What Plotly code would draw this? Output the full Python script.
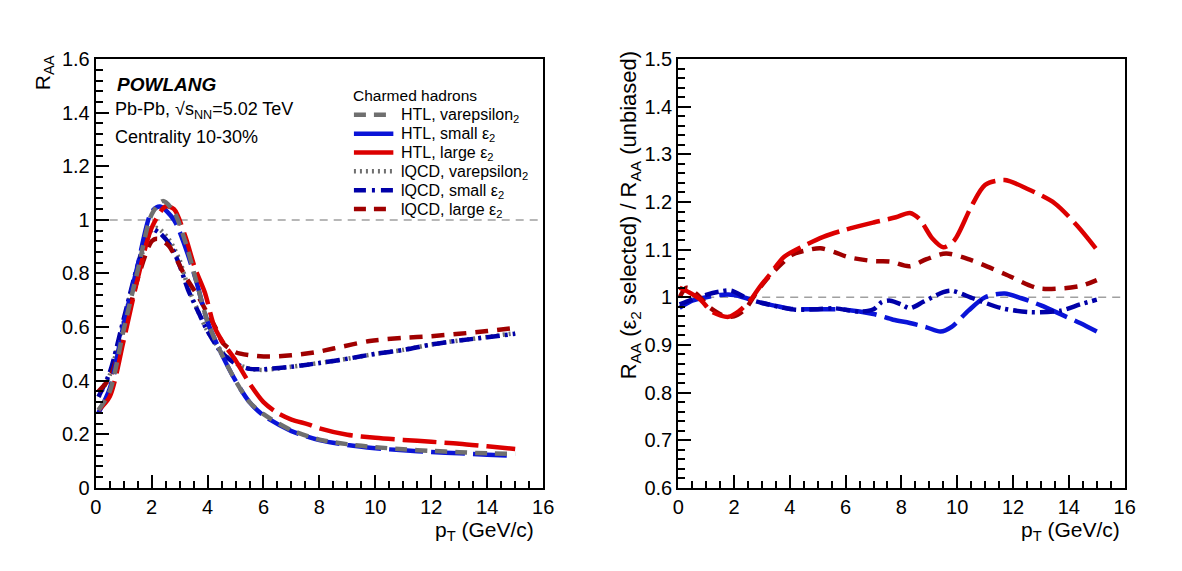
import plotly.graph_objects as go

# ---------------- data (left panel: R_AA) ----------------
pt_htl_var = [0.1, 0.5, 1.0, 1.5, 2.0, 2.4, 2.8, 3.2, 3.6, 4.0, 4.5, 5.0, 5.5, 6.0, 7.0, 8.0, 9.0, 10.0, 11.0, 12.0, 13.0, 14.0, 15.0]
raa_htl_var = [0.29, 0.36, 0.59, 0.81, 1.02, 1.07, 1.03, 0.92, 0.77, 0.62, 0.50, 0.40, 0.32, 0.275, 0.215, 0.18, 0.163, 0.152, 0.144, 0.138, 0.133, 0.129, 0.127]

pt_htl_small = [0.1, 0.5, 1.0, 1.5, 2.0, 2.3, 2.8, 3.2, 3.6, 4.0, 4.5, 5.0, 5.5, 6.0, 7.0, 8.0, 9.0, 10.0, 11.0, 12.0, 13.0, 14.0, 14.9]
raa_htl_small = [0.28, 0.37, 0.61, 0.83, 1.03, 1.05, 1.0, 0.90, 0.77, 0.62, 0.50, 0.40, 0.32, 0.27, 0.212, 0.178, 0.16, 0.148, 0.14, 0.134, 0.129, 0.124, 0.12]

pt_htl_large = [0.1, 0.5, 1.0, 1.5, 2.0, 2.5, 2.8, 3.2, 3.55, 3.9, 4.25, 4.6, 5.0, 5.5, 6.0, 6.5, 7.0, 7.6, 8.0, 9.0, 10.0, 11.0, 12.0, 13.0, 14.0, 15.0]
raa_htl_large = [0.29, 0.34, 0.55, 0.78, 0.97, 1.05, 1.04, 0.94, 0.82, 0.73, 0.60, 0.535, 0.476, 0.39, 0.32, 0.28, 0.255, 0.237, 0.222, 0.198, 0.187, 0.179, 0.172, 0.165, 0.155, 0.145]

pt_lqcd_var = [0.1, 0.5, 1.0, 1.5, 2.0, 2.2, 2.6, 3.0, 3.3, 3.7, 4.0, 4.5, 5.0, 5.5, 6.0, 7.0, 8.0, 9.0, 10.0, 11.0, 12.0, 13.0, 14.0, 15.0]
raa_lqcd_var = [0.34, 0.42, 0.62, 0.82, 0.96, 0.97, 0.93, 0.85, 0.75, 0.65, 0.585, 0.51, 0.465, 0.445, 0.44, 0.452, 0.466, 0.482, 0.50, 0.515, 0.535, 0.55, 0.563, 0.578]

pt_lqcd_small = [0.1, 0.5, 1.0, 1.5, 1.96, 2.3, 2.7, 3.0, 3.3, 3.7, 4.0, 4.5, 5.0, 5.5, 6.0, 7.0, 8.0, 9.0, 10.0, 11.0, 12.0, 13.0, 14.0, 15.0]
raa_lqcd_small = [0.34, 0.43, 0.63, 0.83, 0.966, 0.95, 0.9, 0.83, 0.74, 0.65, 0.585, 0.505, 0.464, 0.444, 0.443, 0.452, 0.466, 0.482, 0.50, 0.515, 0.535, 0.55, 0.562, 0.575]

pt_lqcd_large = [0.1, 0.5, 1.0, 1.5, 2.0, 2.2, 2.6, 3.2, 3.66, 4.0, 4.3, 4.55, 5.0, 5.5, 6.2, 7.0, 7.8, 8.5, 9.8, 11.0, 12.0, 13.0, 14.0, 15.0]
raa_lqcd_large = [0.36, 0.41, 0.58, 0.78, 0.92, 0.93, 0.905, 0.79, 0.715, 0.65, 0.595, 0.54, 0.506, 0.495, 0.49, 0.495, 0.505, 0.52, 0.548, 0.56, 0.566, 0.575, 0.585, 0.597]

# ---------------- data (right panel: ratio) ----------------
pt_r_htl_small = [0.05, 0.5, 1.0, 1.5, 2.0, 2.5, 3.0, 3.5, 4.0, 5.0, 6.0, 7.0, 7.7, 8.3, 8.9, 9.4, 9.8, 10.4, 11.0, 11.7, 12.3, 13.0, 13.8, 14.4, 15.0]
rat_htl_small = [0.978, 0.993, 1.0, 1.005, 1.005, 0.997, 0.988, 0.982, 0.976, 0.975, 0.974, 0.965, 0.953, 0.946, 0.937, 0.928, 0.938, 0.972, 1.0, 1.008, 0.998, 0.983, 0.962, 0.946, 0.928]

pt_r_htl_large = [0.05, 0.4, 0.8, 1.2, 1.8, 2.2, 2.6, 2.9, 3.3, 3.8, 4.5, 5.2, 6.0, 7.0, 7.8, 8.3, 8.65, 9.1, 9.5, 9.9, 10.5, 11.0, 11.7, 12.5, 13.5, 14.3, 15.0]
rat_htl_large = [1.02, 1.01, 0.995, 0.97, 0.959, 0.972, 0.995, 1.02, 1.049, 1.085, 1.108, 1.127, 1.142, 1.157, 1.168, 1.177, 1.164, 1.124, 1.105, 1.12, 1.19, 1.236, 1.246, 1.228, 1.197, 1.15, 1.1]

pt_r_lqcd_small = [0.05, 0.5, 1.0, 1.5, 1.9, 2.5, 3.3, 4.2, 5.0, 5.6, 6.5, 7.0, 7.3, 7.6, 8.0, 8.3, 8.8, 9.5, 9.8, 10.6, 11.6, 12.6, 13.7, 14.4, 15.0]
rat_lqcd_small = [0.985, 0.995, 1.005, 1.012, 1.014, 0.997, 0.984, 0.974, 0.975, 0.977, 0.97, 0.975, 0.99, 0.993, 0.985, 0.977, 0.991, 1.011, 1.014, 0.997, 0.977, 0.969, 0.972, 0.985, 0.995]

pt_r_lqcd_large = [0.05, 0.3, 0.7, 1.1, 1.6, 2.0, 2.4, 2.8, 3.2, 3.7, 4.1, 4.7, 5.1, 5.6, 6.05, 7.0, 7.6, 8.29, 8.9, 9.6, 10.5, 11.7, 12.9, 13.8, 14.5, 15.0]
rat_lqcd_large = [1.0, 1.02, 1.005, 0.98, 0.962, 0.96, 0.975, 1.01, 1.04, 1.07, 1.09, 1.1, 1.103, 1.095, 1.085, 1.076, 1.075, 1.065, 1.08, 1.092, 1.078, 1.049, 1.019, 1.019, 1.025, 1.036]

x_ticks = [0, 2, 4, 6, 8, 10, 12, 14, 16]

legend_title = "Charmed hadrons"
legend_names = ["HTL, varepsilon<sub>2</sub>", "HTL, small ε<sub>2</sub>", "HTL, large ε<sub>2</sub>",
                "lQCD, varepsilon<sub>2</sub>", "lQCD, small ε<sub>2</sub>", "lQCD, large ε<sub>2</sub>"]

# ---------------- styles ----------------
GREY = "#6f6f6f"
BLUE = "#0a14d8"
RED = "#dc0000"
DBLUE = "#0000a8"
DRED = "#a00000"
W = 4.5
st_htl_var = dict(color=GREY, width=W, dash="12px,8px")
st_htl_small = dict(color=BLUE, width=W, dash="34px,8px")
st_htl_large = dict(color=RED, width=W, dash="34px,8px")
st_lqcd_var = dict(color=GREY, width=W, dash="2px,4px")
st_lqcd_small = dict(color=DBLUE, width=W, dash="14px,5px,3px,5px")
st_lqcd_large = dict(color=DRED, width=W, dash="13px,9px")

fig = go.Figure()

def add(x, y, style, xa, ya):
    fig.add_trace(go.Scatter(x=x, y=y, mode="lines", line=dict(shape="spline", smoothing=0.8, **style),
                             xaxis=xa, yaxis=ya, showlegend=False, hoverinfo="skip"))

# left panel
add(pt_lqcd_var, raa_lqcd_var, st_lqcd_var, "x", "y")
add(pt_lqcd_small, raa_lqcd_small, st_lqcd_small, "x", "y")
add(pt_lqcd_large, raa_lqcd_large, st_lqcd_large, "x", "y")
add(pt_htl_small, raa_htl_small, st_htl_small, "x", "y")
add(pt_htl_large, raa_htl_large, st_htl_large, "x", "y")
add(pt_htl_var, raa_htl_var, st_htl_var, "x", "y")

# right panel
add(pt_r_htl_small, rat_htl_small, st_htl_small, "x2", "y2")
add(pt_r_lqcd_small, rat_lqcd_small, st_lqcd_small, "x2", "y2")
add(pt_r_lqcd_large, rat_lqcd_large, st_lqcd_large, "x2", "y2")
add(pt_r_htl_large, rat_htl_large, st_htl_large, "x2", "y2")

# reference lines at 1
for xr, yr in (("x", "y"), ("x2", "y2")):
    fig.add_shape(type="line", xref=f"{xr} domain", yref=yr, x0=0, x1=1, y0=1, y1=1,
                  line=dict(color="#a0a0a0", width=1.5, dash="8px,6px"), layer="below")

FW, FH = 1182, 571
def px(x): return x / FW
def py(y): return 1 - y / FH

FONT = "Liberation Sans, Arial, sans-serif"
ann_font = dict(family=FONT, color="black")

# ROOT-style legend box (HTL small/large drawn as solid lines in the legend)
leg_styles = [dict(color=GREY, width=W, dash="12px,8px"), dict(color=BLUE, width=W), dict(color=RED, width=W),
              dict(color=GREY, width=W, dash="2px,4px"), dict(color=DBLUE, width=W, dash="12px,6px,3px,6px"),
              dict(color=DRED, width=W, dash="12px,8px")]
leg_x0, leg_y0, leg_dy = 353, 108, 19.6
fig.add_annotation(xref="paper", yref="paper", showarrow=False, x=px(350), y=py(88), text=legend_title,
                   font=dict(size=15.5, **ann_font), xanchor="left", yanchor="middle")
for i, (name, st) in enumerate(zip(legend_names, leg_styles)):
    yy = leg_y0 + i * leg_dy
    fig.add_shape(type="line", xref="paper", yref="paper", x0=px(leg_x0), x1=px(leg_x0 + 40),
                  y0=py(yy), y1=py(yy), line=st)
    fig.add_annotation(xref="paper", yref="paper", showarrow=False, x=px(399), y=py(yy + 1), text=name,
                       font=dict(size=16, **ann_font), xanchor="left", yanchor="middle")

axis_common = dict(showline=True, linecolor="black", linewidth=2, mirror=True, ticks="inside",
                   ticklen=13, tickwidth=1.5, tickcolor="black", showgrid=False, zeroline=False,
                   tickfont=dict(family=FONT, size=20, color="black"))

fig.update_layout(
    width=FW, height=FH, margin=dict(l=0, r=0, t=0, b=0),
    paper_bgcolor="white", plot_bgcolor="white", showlegend=False,
    font=dict(family=FONT, color="black"),
    xaxis=dict(domain=[px(91), px(545)], range=[0, 16], tickvals=x_ticks, anchor="y",
               minor=dict(ticks="inside", ticklen=7, dtick=0.5, tickcolor="black"), **axis_common),
    yaxis=dict(domain=[py(496), py(50)], range=[0, 1.6], dtick=0.2, anchor="x",
               minor=dict(ticks="inside", ticklen=7, dtick=0.04, tickcolor="black"), **axis_common),
    xaxis2=dict(domain=[px(682), px(1135)], range=[0, 16], tickvals=x_ticks, anchor="y2",
                minor=dict(ticks="inside", ticklen=7, dtick=0.5, tickcolor="black"), **axis_common),
    yaxis2=dict(domain=[py(496), py(50)], range=[0.6, 1.5], dtick=0.1, anchor="x2",
                minor=dict(ticks="inside", ticklen=7, dtick=0.02, tickcolor="black"), **axis_common),
)

anns = [
    dict(x=px(111), y=py(76), text="<b><i>POWLANG</i></b>", font=dict(size=19, **ann_font), xanchor="left", yanchor="middle"),
    dict(x=px(109), y=py(104), text="Pb-Pb, √s<sub>NN</sub>=5.02 TeV", font=dict(size=18, **ann_font), xanchor="left", yanchor="middle"),
    dict(x=px(109), y=py(131), text="Centrality 10-30%", font=dict(size=18, **ann_font), xanchor="left", yanchor="middle"),
    dict(x=px(538), y=py(541), text="p<sub>T</sub> (GeV/c)", font=dict(size=21, **ann_font), xanchor="right", yanchor="middle"),
    dict(x=px(1132), y=py(541), text="p<sub>T</sub> (GeV/c)", font=dict(size=21, **ann_font), xanchor="right", yanchor="middle"),
    dict(x=px(38), y=py(44), text="R<sub>AA</sub>", font=dict(size=21, **ann_font), textangle=-90, xanchor="center", yanchor="top"),
    dict(x=px(634), y=py(40), text="R<sub>AA</sub> (ε<sub>2</sub> selected) / R<sub>AA</sub> (unbiased)", font=dict(size=22, **ann_font),
         textangle=-90, xanchor="center", yanchor="top"),
]
for a in anns:
    fig.add_annotation(xref="paper", yref="paper", showarrow=False, **a)

fig.write_html("out.html")
